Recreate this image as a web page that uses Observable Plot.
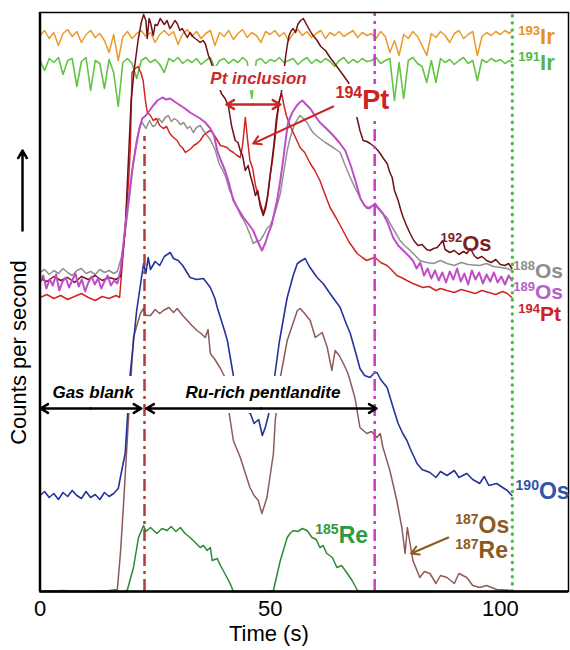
<!DOCTYPE html>
<html><head><meta charset="utf-8">
<script src="https://cdn.jsdelivr.net/npm/d3@7"></script>
<script src="https://cdn.jsdelivr.net/npm/@observablehq/plot@0.6"></script>
<style>body{margin:0;background:#fff}#chart{width:570px;height:650px}</style>
</head><body><div id="chart"></div>
<script>
// ---- data (arbitrary count units vs time in s) ----
const irTime = d3.range(0, 103).concat([102.5]);
const ir193 = [556,561,553,559,546,558,562,555,560,549,
557,561,554,558,551,539,557,531,555,560,
553,558,561,555,559,549,557,561,556,560,
547,558,562,555,560,553,558,561,546,559,
555,561,552,558,562,554,559,556,549,560,
557,561,555,559,551,558,562,556,560,554,
558,561,553,559,556,560,555,558,561,554,
559,556,558,553,560,555,539,551,536,557,
553,560,555,546,536,558,554,560,556,549,
558,561,553,557,560,536,555,559,556,560,
557,561,558,561];
const ir191 = [531,521,533,529,534,517,531,533,505,530,
534,501,531,528,503,532,519,485,529,533,
528,513,531,534,529,532,527,519,533,530,
534,528,532,529,533,527,531,534,523,531,
533,528,532,529,534,530,493,531,533,528,
532,530,534,529,531,533,527,531,534,528,
532,529,533,530,525,531,534,528,532,529,
533,530,531,534,528,531,533,491,529,493,
531,534,528,525,509,531,509,533,529,532,
527,531,534,528,531,511,532,529,533,530,
532,528,531,529];
const os192 = [[0,313],[1.5,310],[3,315],[4.5,311],[6,314],[7.5,309],[9,315],[10.5,312],[12,316],[13.5,311],[15,314],[16.5,312],[17.5,315],[18.5,361],[19.2,431],[19.8,491],[20.5,523],[21.3,551],[22,569],[22.5,577],[23,571],[23.3,553],[23.7,573],[24,569],[24.6,556],[25,567],[25.5,566],[26.1,573],[27,567],[27.6,571],[28.2,563],[28.7,566],[29.3,571],[29.8,568],[30.4,561],[30.9,563],[31.5,558],[32,554],[32.6,559],[33.2,555],[33.7,553],[34.3,551],[34.8,549],[35.4,551],[35.9,548],[36.6,536],[37.2,529],[38,516],[38.8,506],[39.4,498],[40.2,493],[40.9,486],[41.6,466],[42.4,451],[43,449],[43.5,441],[44,436],[44.6,421],[45.2,426],[45.7,416],[46.3,406],[46.8,396],[47.3,401],[47.8,386],[48.5,376],[49,383],[49.3,391],[49.8,409],[50.4,431],[50.9,451],[51.3,471],[51.9,489],[52.4,498],[52.9,516],[53.3,533],[53.7,546],[54.1,556],[54.6,561],[55,563],[55.5,559],[56,567],[56.6,571],[57.2,573],[58,566],[59,558],[60.2,551],[61,545],[62,541],[63,534],[64,528],[65.6,518],[67,509],[68,490],[68.9,473],[69.5,461],[70.2,451],[71,450],[71.7,448],[72.3,446],[72.8,444],[73.4,441],[73.9,438],[74.6,433],[75.4,428],[76,419],[76.5,414],[77,401],[77.8,391],[78.4,381],[78.9,374],[79.6,366],[80.4,358],[81.2,351],[82.1,346],[83,347],[84,342],[84.7,341],[85.5,343],[86.3,344],[87,348],[87.5,351],[88,342],[89,339],[90,341],[91,337],[92,340],[92.7,338],[93.5,343],[94.3,336],[95,333],[96,335],[97,331],[98,329],[99,332],[100,327],[101,326],[101.8,328],[102.5,323]];
const pt194 = [[0,294],[1.5,297],[3,293],[4.5,296],[6,292],[7.5,295],[9,298],[10.5,294],[12,291],[13.5,295],[15,293],[16.5,296],[17.3,294],[18.1,341],[18.7,376],[19.2,408],[19.6,441],[20,519],[20.7,523],[21.3,525],[21.9,519],[22.4,511],[22.9,491],[23.3,479],[24,476],[24.6,471],[25.3,473],[26,466],[26.8,463],[27.5,465],[28.2,458],[29,454],[29.8,451],[30.4,446],[30.9,444],[31.6,439],[32.2,441],[32.8,443],[33.4,446],[34.1,448],[34.8,451],[35.5,456],[36.3,459],[37,461],[37.6,458],[38.3,453],[39.2,446],[40,445],[40.6,444],[41.3,441],[42,439],[42.8,436],[43.5,434],[44,446],[44.6,474],[45.1,451],[45.6,431],[46.2,423],[46.8,406],[47.4,396],[48,386],[48.5,378],[49,386],[49.5,396],[50,416],[50.5,431],[51,451],[51.5,473],[52,491],[52.5,498],[53,486],[53.5,476],[54.3,466],[55,459],[55.8,451],[56.5,444],[57.5,439],[58.7,428],[59.7,421],[60.8,411],[62,396],[63,384],[64.4,373],[65.8,361],[67.2,349],[68.9,338],[70,334],[71,331],[72,333],[72.8,334],[74,329],[75.4,326],[76.5,321],[77.5,316],[78.5,314],[79.7,311],[81,308],[82.1,306],[83.2,304],[84.5,305],[86,301],[87,303],[88.4,301],[90,299],[91.5,302],[93,300],[94.5,298],[96,301],[97.5,299],[99,297],[100.5,300],[101.5,298],[102.5,294]];
const os188 = [[0,319],[1,322],[2,317],[3,321],[4,318],[5,323],[6,319],[7,316],[8,321],[9,323],[10,318],[11,320],[12,317],[13,322],[14,319],[15,321],[16,318],[16.8,320],[17.8,336],[18.7,366],[19.5,396],[20.2,426],[21,451],[21.7,466],[22.2,469],[23,463],[23.8,471],[24.5,465],[25,466],[25.8,473],[26.5,469],[27.2,474],[27.9,476],[28.5,470],[29.2,473],[29.8,471],[30.5,467],[31.2,469],[32,463],[32.6,465],[33.3,459],[34,464],[34.8,466],[35.5,461],[36.3,456],[37.1,451],[37.6,446],[38.1,441],[38.9,428],[39.7,421],[40.4,414],[41.2,401],[42,393],[42.8,384],[43.6,376],[44.3,371],[45,364],[45.7,356],[46.3,348],[47,350],[47.8,351],[48.5,356],[49.3,363],[50,366],[50.7,374],[51.5,386],[52.2,398],[53,421],[53.7,441],[54.3,453],[55,463],[55.4,468],[56,473],[56.5,476],[57.2,473],[58,469],[58.7,463],[59.3,459],[60,456],[60.8,453],[62,449],[63,446],[64,443],[65.2,439],[66.3,426],[67.4,414],[68.5,403],[69.5,394],[70.2,388],[71,383],[71.8,385],[72.8,386],[73.8,381],[74.6,377],[75.4,374],[76.3,366],[77.2,359],[78.2,351],[79.2,346],[80.4,341],[81.5,336],[82.5,331],[84,329],[85.5,328],[87,331],[88.4,328],[90,326],[91.5,329],[93,327],[95.5,326],[97,328],[98.5,325],[100,324],[101.5,323],[102.5,321]];
const os189 = [[0,309],[0.7,316],[1.4,303],[2.1,312],[2.8,306],[3.5,317],[4.2,301],[4.9,310],[5.6,314],[6.3,304],[7,311],[7.7,318],[8.4,305],[9.1,312],[9.8,300],[10.5,309],[11.2,315],[11.9,307],[12.6,313],[13.3,303],[14,310],[14.7,316],[15.4,306],[16.1,311],[16.8,308],[17.5,321],[18.5,364],[19.2,391],[20,421],[20.7,441],[21.4,459],[22.2,473],[23,476],[23.8,481],[24.6,486],[25.5,491],[26.6,494],[27.4,492],[28.3,493],[29.2,490],[30.5,486],[31.5,483],[32.6,479],[33.7,476],[34.8,473],[35.9,469],[37,463],[37.8,456],[38.5,441],[39.3,431],[40.2,421],[41,409],[42,391],[43,383],[44.2,374],[45.2,368],[46.3,361],[47.2,351],[48.2,341],[48.9,348],[49.6,358],[50.3,366],[51,381],[51.5,391],[52.2,411],[52.8,431],[53.4,453],[53.9,469],[54.8,479],[55.8,486],[56.4,489],[57,491],[57.8,487],[58.7,483],[59.7,476],[60.8,469],[62.2,463],[63.7,456],[65,449],[66.3,441],[67.5,426],[68.5,411],[69.6,393],[70.5,386],[71.5,383],[72.3,386],[72.8,388],[73.6,383],[74.5,378],[75.5,369],[76.7,354],[77.8,346],[78.9,341],[80,336],[81,331],[81.8,323],[82.6,329],[83.4,316],[84.2,323],[85,313],[85.8,321],[86.6,311],[87.4,319],[88.2,309],[89,320],[89.8,312],[90.6,323],[91.4,310],[92.2,318],[93,307],[93.8,321],[94.6,312],[95.4,319],[96.2,308],[97,317],[97.8,310],[98.6,319],[99.4,309],[100.2,315],[101,307],[101.8,316],[102.5,311]];
const os190 = [[0,96],[1,100],[2,94],[3,98],[4,92],[5,99],[6,95],[7,101],[8,96],[9,93],[10,100],[11,94],[12,97],[13,92],[14,99],[15,95],[16,98],[17,103],[17.5,115],[18.5,138],[19.6,218],[21,281],[22.5,328],[23,318],[23.5,334],[24,322],[25,330],[26,326],[27,335],[28.3,339],[29,333],[30,331],[31,326],[32.6,314],[34,312],[35.5,313],[37,304],[38,293],[38.5,284],[40,262],[40.7,251],[42,216],[43,196],[44,184],[45.7,178],[46.5,168],[47.5,172],[48.3,156],[49,165],[49.6,176],[50.3,190],[51,216],[52,250],[53.3,284],[53.7,294],[55,316],[55.9,328],[56.5,330],[57.6,333],[58.5,325],[60.2,314],[61.5,308],[63,298],[65.2,284],[66.5,268],[67.4,258],[68.5,240],[69.5,223],[70.5,216],[71.7,214],[72.5,218],[73.2,219],[74,212],[75.4,204],[76.7,184],[77.8,168],[78.8,158],[79.7,151],[80.4,143],[81.9,128],[83,122],[84.7,119],[86,114],[87,120],[88.4,116],[90,121],[91,114],[92.7,118],[94,112],[95.5,108],[96.5,115],[97.5,106],[99.2,108],[100.5,104],[101.5,101],[102.5,96]];
const os187 = [[0,0],[5,1],[10,0],[15,1],[16.8,2],[17.5,40],[18.1,84],[19.2,171],[20.3,254],[21.8,278],[22.5,283],[23,276],[24,276],[25,282],[26,278],[26.8,281],[28,284],[29,279],[29.8,283],[31,276],[32,271],[33,266],[34.1,261],[35,258],[35.9,254],[36.5,262],[37,238],[38,232],[39.2,223],[40.2,214],[40.9,184],[42,151],[43.5,134],[45.6,104],[46.5,96],[47.4,91],[48.2,78],[49.3,94],[50.7,138],[51.1,171],[52.2,214],[53.7,251],[55.9,281],[56.5,283],[57.5,278],[58.7,271],[59.8,254],[61.3,259],[62.4,244],[63.4,221],[64.1,241],[65,236],[65.9,228],[66.9,218],[68.4,194],[69.5,164],[71,158],[72,160],[73.2,154],[73.9,158],[74.5,144],[76,121],[77.5,91],[78.6,64],[79.3,38],[79.8,64],[81,31],[82.5,14],[83.5,20],[84.7,18],[86,8],[87,16],[88.4,14],[90,8],[91,18],[92.7,14],[94,6],[95.5,4],[97,6],[99.2,2],[102.5,1]];
const re185 = [[0,0],[10,0],[18.5,0],[19,2],[20.3,24],[21.4,54],[22.5,66],[23,60],[24,64],[25.4,58],[26.5,63],[27.6,61],[28.5,65],[29.5,60],[30.5,64],[31.5,58],[32.6,54],[33.5,50],[34.8,44],[35.5,46],[36.3,41],[37,44],[37.4,31],[38.5,33],[39.2,26],[39.8,21],[41.3,8],[42,0],[45,0],[49,0],[50.7,1],[52.2,31],[53.7,54],[54.3,58],[55,61],[56,60],[57,63],[58,61],[59.1,54],[60,52],[60.8,44],[61.5,46],[62.3,38],[63.5,34],[64.5,24],[65.5,26],[66.3,21],[67.8,11],[69.1,0],[85,0]];

// ---- annotation layout ----
const isoLabels = [
  {text:"193|Ir", t:103.9, v:555, color:"#e8921e", size:22},
  {text:"191|Ir", t:103.9, v:529, color:"#52b842", size:22},
  {text:"192|Os", t:87.0,  v:348, color:"#7b1f25", size:22},
  {text:"188|Os", t:102.8, v:320, color:"#8d8d8d", size:21},
  {text:"189|Os", t:102.8, v:299, color:"#b45fca", size:21},
  {text:"194|Pt", t:103.9, v:277, color:"#cc2222", size:21},
  {text:"190|Os", t:103.3, v:100, color:"#2f56ad", size:23},
  {text:"187|Os", t:90.2,  v:66,  color:"#8b5a20", size:23},
  {text:"187|Re", t:90.2,  v:41,  color:"#8b5a20", size:23},
  {text:"185|Re", t:59.8,  v:56,  color:"#2c9a40", size:23},
  {text:"194|Pt", t:64.2,  v:491, color:"#cc2222", size:27}
];
const masks = [
  {t1:35.9, t2:58.5, v1:501, v2:525},
  {t1:63.3, t2:75.5, v1:474, v2:507},
  {t1:1.4,  t2:21.2, v1:178, v2:215},
  {t1:31.0, t2:66.3, v1:178, v2:215}
];
const arrows = [
  {x1:11.0, y1:183, x2:0.1,  y2:183, c:"black", w:2.5},
  {x1:11.0, y1:183, x2:22.0, y2:183, c:"black", w:2.5},
  {x1:48.0, y1:183, x2:23.1, y2:183, c:"black", w:2.5},
  {x1:48.0, y1:183, x2:73.1, y2:183, c:"black", w:2.5},
  {x1:46.3, y1:487, x2:40.5, y2:487, c:"#c82828", w:2.5},
  {x1:46.3, y1:487, x2:52.2, y2:487, c:"#c82828", w:2.5},
  {x1:63.7, y1:485, x2:46.3, y2:448, c:"#c82828", w:2},
  {x1:88.7, y1:54,  x2:80.6, y2:38,  c:"#8b5a20", w:2},
  {x1:-3.8, y1:361, x2:-3.8, y2:441, c:"black",   w:2.5}
];
const rows = a => a.map(([t, v]) => ({t, v}));
const irRows = vals => vals.map((v, i) => ({t: irTime[i], v}));

const series = [
  {d: irRows(ir193), c:"#eb9a2a", w:1.5},
  {d: irRows(ir191), c:"#62c444", w:1.6},
  {d: rows(re185), c:"#2a8a34", w:1.5},
  {d: rows(os187), c:"#8e5a58", w:1.5},
  {d: rows(os190), c:"#24339c", w:1.6},
  {d: rows(os188), c:"#909090", w:1.5},
  {d: rows(pt194), c:"#d42424", w:1.5},
  {d: rows(os192), c:"#6e1018", w:1.5},
  {d: rows(os189), c:"#c04cc8", w:2}
];

const chart = Plot.plot({
  width: 570, height: 650,
  marginLeft: 39.5, marginRight: 2, marginTop: 12, marginBottom: 59,
  x: {domain: [0, 114.8], axis: null},
  y: {domain: [0, 579], axis: null},
  color: {type: "identity"},
  style: {fontFamily: "'Liberation Sans', Arial, sans-serif", background: "white", overflow: "visible"},
  marks: [
    ...series.map(s => Plot.line(s.d, {x: "t", y: "v", stroke: s.c, strokeWidth: s.w})),
    Plot.ruleX([22.7], {y1: 0, y2: 455, stroke: "#b03c3c", strokeWidth: 2.5, strokeDasharray: "12,5,3,5"}),
    Plot.ruleX([72.7], {y1: 0, y2: 579, stroke: "#c63cc6", strokeWidth: 2.5, strokeDasharray: "12,5,3,5"}),
    Plot.ruleX([102.6], {y1: 0, y2: 579, stroke: "#4cc040", strokeWidth: 3.5, strokeDasharray: "0.1,7", strokeLinecap: "round"}),
    Plot.rect(masks, {x1: "t1", x2: "t2", y1: "v1", y2: "v2", fill: "white"}),
    Plot.frame({stroke: "black", strokeWidth: 1.5}),
    Plot.ruleX([0], {stroke: "black", strokeWidth: 2.5}),
    Plot.ruleY([0], {stroke: "black", strokeWidth: 2.5}),
    Plot.axisX({ticks: [0, 50, 100], tickSize: 0, tickPadding: 9, fontSize: 22, label: null}),
    Plot.text(["Time (s)"], {x: [49.7], frameAnchor: "bottom", dy: 49, fontSize: 22}),
    Plot.text(["Counts per second"], {y: [239], frameAnchor: "left", textAnchor: "middle", dx: -21, rotate: -90, fontSize: 22}),
    Plot.arrow(arrows, {x1: "x1", y1: "y1", x2: "x2", y2: "y2", stroke: "c", strokeWidth: "w", headLength: 13}),
    Plot.text([{s: "Pt inclusion", t: 37.0, v: 513}], {x: "t", y: "v", text: "s", textAnchor: "start", fill: "#cc2828", fontSize: 17, fontWeight: "bold", fontStyle: "italic"}),
    Plot.text([{s: "Gas blank", t: 2.7, v: 199}, {s: "Ru-rich pentlandite", t: 31.6, v: 199}], {x: "t", y: "v", text: "s", textAnchor: "start", fill: "black", fontSize: 17, fontWeight: "bold", fontStyle: "italic"}),
    Plot.text(isoLabels, {x: "t", y: "v", text: "text", fill: "color", fontSize: "size", textAnchor: "start", fontWeight: "bold", className: "iso"})
  ]
});
document.getElementById("chart").appendChild(chart);

// render isotope mass numbers as superscripts
d3.select(chart).selectAll(".iso text").each(function() {
  const el = d3.select(this);
  const parts = el.text().split("|");
  if (parts.length < 2) return;
  const fs = parseFloat(el.attr("font-size")) || 22;
  const sh = Math.round(fs * 0.4);
  el.text("");
  el.append("tspan").attr("font-size", Math.round(fs * 0.6)).attr("dy", -sh).text(parts[0]);
  el.append("tspan").attr("dy", sh).text(parts[1]);
});
</script>
</body></html>
